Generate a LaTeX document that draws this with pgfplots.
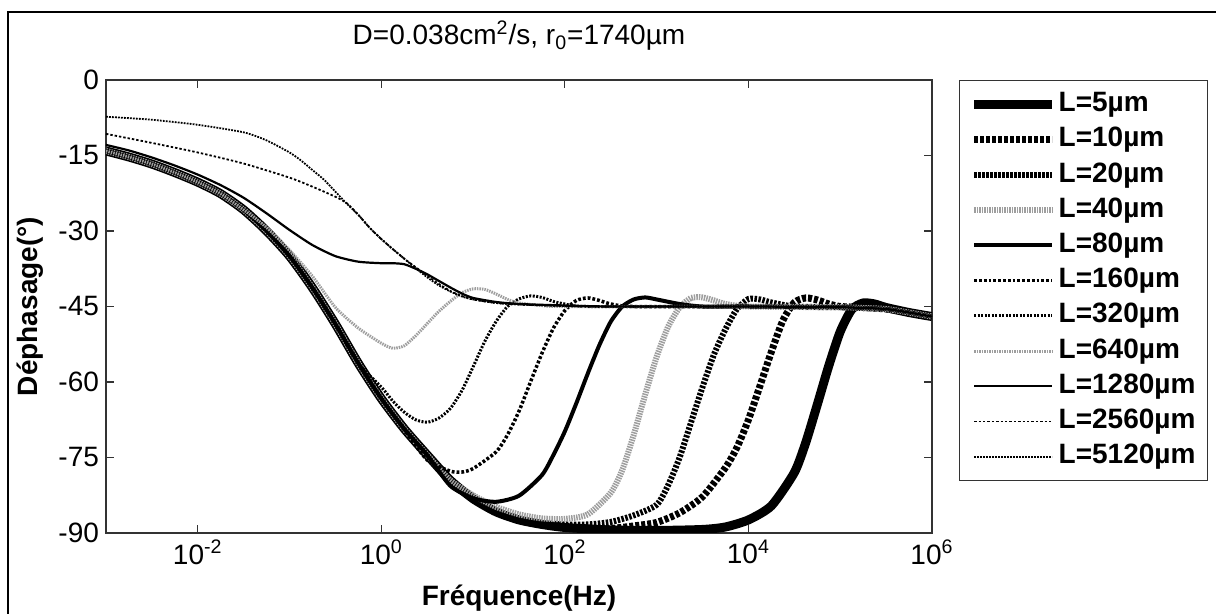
\documentclass[border=0pt]{standalone}
\usepackage{pgfplots}
\pgfplotsset{compat=1.18}
\usepackage{fontspec}
\setmainfont{Liberation Sans}
\begin{document}
\begin{tikzpicture}
\useasboundingbox (-53pt,-40.5pt) rectangle (555pt,266.5pt);
\draw[line width=1pt] (-49pt,-45pt) -- (-49pt,260.7pt) -- (560pt,260.7pt);
\begin{axis}[
  at={(0,0)}, anchor=south west,
  scale only axis, width=413pt, height=226.5pt,
  xmode=log, xmin=1e-3, xmax=1e6, ymin=-90, ymax=0,
  xtick={1e-2,1,1e2,1e4,1e6},
  xticklabels={10\textsuperscript{-2},10\textsuperscript{0},10\textsuperscript{2},10\textsuperscript{4},10\textsuperscript{6}},
  ytick={-90,-75,-60,-45,-30,-15,0},
  yticklabels={-90,-75,-60,-45,-30,-15,0},
  xminorticks=false,
  tick align=inside, major tick length=4pt,
  axis line style={black!80, line width=0.7pt},
  tick style={black!80, line width=0.6pt},
  ticklabel style={font=\fontsize{14}{14}\selectfont},
  title={D=0.038cm\textsuperscript{2}/s, r\textsubscript{0}=1740µm},
  title style={font=\fontsize{14}{14}\selectfont, at={(axis description cs:0.5,1)}, anchor=base, yshift=11.5pt},
  xlabel={Fréquence(Hz)}, ylabel={Déphasage(°)},
  xlabel style={font=\bfseries\fontsize{14}{14}\selectfont, at={(axis description cs:0.5,-0.1435)}, anchor=center},
  ylabel style={font=\bfseries\fontsize{14}{14}\selectfont, at={(axis description cs:-0.092,0.5)}, anchor=center},
  legend style={at={(1.0327,1)}, anchor=north west, draw=black!80, line width=0.7pt, fill=white,
    font=\bfseries\fontsize{14}{14}\selectfont, row sep=2.6pt, inner xsep=5pt, inner ysep=4.5pt,
    nodes={inner sep=1pt, text height=10pt, text depth=3pt}},
  legend cell align=left,
  legend image code/.code={\draw[#1] (0pt,0pt) -- (39pt,0pt);},
  every axis plot/.append style={smooth, tension=0.4},
]
% L=5
\addplot[black, line width=4.5pt] coordinates {(1e-3,-14.1) (1.778e-3,-15.3) (3.162e-3,-16.7) (5.623e-3,-18.4) (1e-2,-20.3) (1.778e-2,-22.6) (3.162e-2,-25.8) (5.623e-2,-30.0) (1e-1,-35.0) (1.778e-1,-41.3) (3.162e-1,-48.5) (5.623e-1,-56.3) (1,-63.3) (1.778,-69.3) (3.162,-74.5) (5.623,-79.5) (10,-83.2) (17.78,-85.8) (31.62,-87.4) (56.23,-88.3) (100,-88.9) (316.2,-89.4) (1e3,-89.5) (3.162e3,-89.3) (5.623e3,-88.8) (1e4,-87.4) (1.778e4,-84.6) (3.162e4,-78.0) (4.217e4,-72.0) (5.623e4,-64.5) (7.499e4,-56.8) (1e5,-50.0) (1.334e5,-45.6) (1.778e5,-44.3) (2.371e5,-44.5) (3.162e5,-45.2) (5.623e5,-46.2) (1e6,-47.0)};
% L=10
\addplot[black, line width=3.5pt, dash pattern=on 2pt off 1pt] coordinates {(1e-3,-14.1) (1.778e-3,-15.3) (3.162e-3,-16.7) (5.623e-3,-18.4) (1e-2,-20.3) (1.778e-2,-22.6) (3.162e-2,-25.8) (5.623e-2,-30.0) (1e-1,-35.0) (1.778e-1,-41.3) (3.162e-1,-48.5) (5.623e-1,-56.3) (1,-63.3) (1.778,-69.3) (3.162,-74.5) (5.623,-79.5) (10,-83.2) (17.78,-85.8) (31.62,-87.4) (56.23,-88.3) (100,-88.9) (177.8,-89.1) (316.2,-89.1) (562.3,-88.6) (1e3,-87.9) (1.778e3,-86.0) (3.162e3,-82.8) (5.623e3,-77.0) (7.499e3,-73.0) (1e4,-67.5) (1.334e4,-60.8) (1.778e4,-54.0) (2.371e4,-47.8) (3.162e4,-44.2) (4.217e4,-43.3) (5.623e4,-43.7) (7.499e4,-44.5) (1e5,-45.0) (1.778e5,-45.2) (3.162e5,-45.5) (5.623e5,-46.2) (1e6,-47.0)};
% L=20
\addplot[black, line width=3pt, dash pattern=on 1.25pt off 0.75pt] coordinates {(1e-3,-14.1) (1.778e-3,-15.3) (3.162e-3,-16.7) (5.623e-3,-18.4) (1e-2,-20.3) (1.778e-2,-22.6) (3.162e-2,-25.8) (5.623e-2,-30.0) (1e-1,-35.0) (1.778e-1,-41.3) (3.162e-1,-48.5) (5.623e-1,-56.3) (1,-63.3) (1.778,-69.3) (3.162,-74.5) (5.623,-79.5) (10,-83.2) (17.78,-85.8) (31.62,-87.4) (56.23,-88.0) (100,-88.3) (177.8,-88.3) (316.2,-87.8) (562.3,-86.5) (1e3,-84.4) (1.334e3,-80.5) (1.778e3,-75.0) (2.371e3,-68.0) (3.162e3,-61.0) (4.217e3,-54.5) (5.623e3,-49.5) (7.499e3,-45.5) (1e4,-43.5) (1.334e4,-43.6) (1.778e4,-44.2) (3.162e4,-45.0) (1e5,-45.15) (1.778e5,-45.3) (3.162e5,-45.5) (5.623e5,-46.2) (1e6,-47.0)};
% L=40
\addplot[black!38, line width=3pt, dash pattern=on 0.75pt off 0.5pt] coordinates {(1e-3,-14.1) (1.778e-3,-15.3) (3.162e-3,-16.7) (5.623e-3,-18.4) (1e-2,-20.3) (1.778e-2,-22.6) (3.162e-2,-25.8) (5.623e-2,-30.0) (1e-1,-35.0) (1.778e-1,-41.3) (3.162e-1,-48.5) (5.623e-1,-56.3) (1,-63.3) (1.778,-69.3) (3.162,-74.5) (5.623,-79.5) (10,-82.5) (17.78,-84.8) (31.62,-86.3) (56.23,-87.1) (100,-87.2) (177.8,-86.3) (316.2,-82.0) (421.7,-77.5) (562.3,-70.5) (749.9,-62.5) (1e3,-55.0) (1.334e3,-49.0) (1.778e3,-45.2) (2.371e3,-43.3) (3.162e3,-43.2) (4.217e3,-43.8) (5.623e3,-44.5) (1e4,-45.0) (1e5,-45.15) (1.778e5,-45.3) (3.162e5,-45.5) (5.623e5,-46.2) (1e6,-47.0)};
% L=80
\addplot[black, line width=2pt] coordinates {(1e-3,-14.1) (1.778e-3,-15.3) (3.162e-3,-16.7) (5.623e-3,-18.4) (1e-2,-20.3) (1.778e-2,-22.6) (3.162e-2,-25.8) (5.623e-2,-30.0) (1e-1,-35.0) (1.778e-1,-41.3) (3.162e-1,-48.5) (5.623e-1,-56.3) (1,-63.3) (1.778,-69.3) (3.162,-74.5) (5.623,-80.6) (10,-83.1) (17.78,-83.8) (31.62,-82.6) (56.23,-78.5) (74.99,-74.5) (100,-69.8) (133.4,-64.2) (177.8,-58.3) (237.1,-52.7) (316.2,-48.0) (421.7,-45.0) (562.3,-43.6) (749.9,-43.2) (1e3,-43.6) (1.778e3,-44.5) (3.162e3,-45.0) (1e4,-45.0) (1e5,-45.15) (1.778e5,-45.3) (3.162e5,-45.5) (5.623e5,-46.2) (1e6,-47.0)};
% L=160
\addplot[black, line width=1.75pt, dash pattern=on 1.4pt off 1pt] coordinates {(1e-3,-14.1) (1.778e-3,-15.3) (3.162e-3,-16.7) (5.623e-3,-18.4) (1e-2,-20.3) (1.778e-2,-22.6) (3.162e-2,-25.8) (5.623e-2,-30.0) (1e-1,-35.0) (1.778e-1,-41.3) (3.162e-1,-48.5) (5.623e-1,-56.3) (1,-63.3) (1.778,-69.5) (3.162,-75.5) (5.623,-77.7) (7.499,-77.9) (10,-77.2) (17.78,-73.9) (23.71,-70.5) (31.62,-65.8) (42.17,-60.0) (56.23,-54.3) (74.99,-49.3) (100,-45.8) (133.4,-43.8) (177.8,-43.3) (237.1,-43.8) (316.2,-44.5) (562.3,-45.0) (1e4,-45.0) (1e5,-45.15) (1.778e5,-45.3) (3.162e5,-45.5) (5.623e5,-46.2) (1e6,-47.0)};
% L=320
\addplot[black, line width=1.5pt, dash pattern=on 1pt off 0.75pt] coordinates {(1e-3,-14.1) (1.778e-3,-15.3) (3.162e-3,-16.7) (5.623e-3,-18.4) (1e-2,-20.3) (1.778e-2,-22.6) (3.162e-2,-25.8) (5.623e-2,-30.0) (1e-1,-35.0) (1.778e-1,-41.3) (3.162e-1,-48.5) (5.623e-1,-56.3) (1,-61.0) (1.334,-63.8) (1.778,-66.0) (2.371,-67.5) (3.162,-68.0) (4.217,-67.2) (5.623,-65.3) (7.499,-61.8) (10,-57.0) (13.34,-52.0) (17.78,-48.0) (23.71,-45.0) (31.62,-43.5) (42.17,-42.9) (56.23,-43.2) (74.99,-44.0) (100,-44.5) (177.8,-45.0) (1e4,-45.0) (1e5,-45.15) (1.778e5,-45.3) (3.162e5,-45.5) (5.623e5,-46.2) (1e6,-47.0)};
% L=640
\addplot[black!38, line width=1.5pt, dash pattern=on 0.75pt off 0.5pt] coordinates {(1e-3,-14.1) (1.778e-3,-15.3) (3.162e-3,-16.7) (5.623e-3,-18.4) (1e-2,-20.3) (1.778e-2,-22.6) (3.162e-2,-25.8) (5.623e-2,-29.3) (0.1,-33.8) (0.1778,-39.0) (0.3162,-45.2) (0.5623,-49.3) (1,-52.3) (1.334,-53.3) (1.778,-52.8) (2.371,-50.8) (3.162,-48.4) (4.217,-46.0) (5.623,-44.0) (7.499,-42.3) (10,-41.5) (13.34,-41.6) (17.78,-42.5) (23.71,-43.6) (31.62,-44.3) (56.23,-44.8) (100,-45.0) (1e4,-45.0) (1e5,-45.15) (1.778e5,-45.3) (3.162e5,-45.5) (5.623e5,-46.2) (1e6,-47.0)};
% L=1280
\addplot[black, line width=1.1pt] coordinates {(1e-3,-12.9) (1.778e-3,-14.0) (3.162e-3,-15.4) (5.623e-3,-17.0) (1e-2,-18.8) (1.778e-2,-20.9) (3.162e-2,-23.4) (5.623e-2,-26.5) (0.1,-29.8) (0.1778,-32.8) (0.3162,-35.0) (0.5623,-36.1) (1,-36.4) (1.334,-36.4) (1.778,-36.6) (2.371,-37.5) (3.162,-38.6) (4.217,-39.9) (5.623,-41.2) (7.499,-42.4) (10,-43.3) (17.78,-44.1) (31.62,-44.5) (100,-44.8) (316.2,-45.0) (1e4,-45.0) (1e5,-45.15) (1.778e5,-45.3) (3.162e5,-45.5) (5.623e5,-46.2) (1e6,-47.0)};
% L=2560
\addplot[black, line width=0.9pt, dash pattern=on 1.2pt off 1pt] coordinates {(1e-3,-10.7) (3.162e-3,-12.5) (1e-2,-14.4) (3.162e-2,-16.6) (0.1,-19.4) (0.1778,-21.2) (0.3162,-23.2) (0.4217,-24.5) (0.5623,-26.8) (0.7499,-29.4) (1,-31.6) (1.334,-33.6) (1.778,-35.5) (2.371,-37.2) (3.162,-38.9) (4.217,-40.5) (5.623,-41.9) (7.499,-42.9) (10,-43.6) (17.78,-44.3) (31.62,-44.6) (100,-44.9) (316.2,-45.0) (1e4,-45.0) (1e5,-45.15) (1.778e5,-45.3) (3.162e5,-45.5) (5.623e5,-46.2) (1e6,-47.0)};
% L=5120
\addplot[black, line width=0.9pt, dash pattern=on 0.9pt off 0.6pt] coordinates {(1e-3,-7.3) (3.162e-3,-7.9) (1e-2,-8.9) (3.162e-2,-10.4) (5.623e-2,-12.0) (0.1,-14.4) (0.1334,-16.0) (0.1778,-17.9) (0.2371,-19.8) (0.3162,-22.2) (0.4217,-24.6) (0.5623,-26.8) (0.7499,-29.4) (1,-31.6) (1.334,-33.6) (1.778,-35.5) (2.371,-37.4) (3.162,-39.2) (4.217,-40.8) (5.623,-42.0) (7.499,-43.0) (10,-43.6) (17.78,-44.3) (31.62,-44.6) (100,-44.9) (316.2,-45.0) (1e4,-45.0) (1e5,-45.15) (1.778e5,-45.3) (3.162e5,-45.5) (5.623e5,-46.2) (1e6,-47.0)};
\legend{L=5µm,L=10µm,L=20µm,L=40µm,L=80µm,L=160µm,L=320µm,L=640µm,L=1280µm,L=2560µm,L=5120µm}
\end{axis}
\end{tikzpicture}
\end{document}
